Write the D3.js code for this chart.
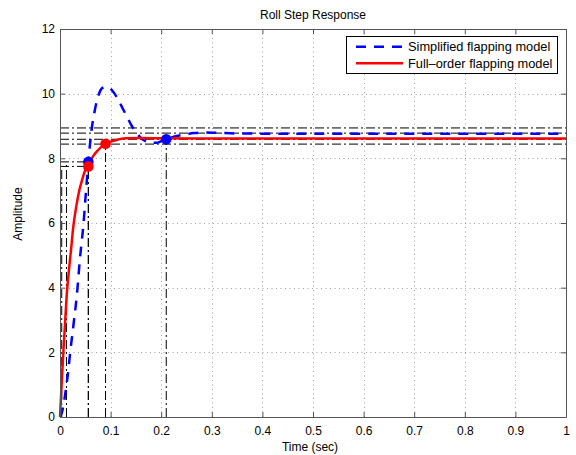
<!DOCTYPE html>
<html>
<head>
<meta charset="utf-8">
<script src="https://cdn.jsdelivr.net/npm/d3@7"></script>
<style>
  html, body { margin: 0; padding: 0; background: #fff; }
  svg { display: block; font-family: "Liberation Sans", Arial, Helvetica, sans-serif; }
</style>
</head>
<body>
<svg id="chart" width="576" height="455"></svg>
<script>
// Step response of the simplified (blue, dashed) and full-order (red) flapping models
const simplifiedT = [0, 0.004, 0.01, 0.0165, 0.02, 0.027, 0.033, 0.04, 0.046, 0.051, 0.056, 0.0626, 0.069, 0.076, 0.084, 0.092, 0.1, 0.112, 0.122, 0.132, 0.142, 0.152, 0.162, 0.171, 0.181, 0.191, 0.2, 0.21, 0.225, 0.244, 0.265, 0.283, 0.31, 0.35, 0.45, 0.6, 0.8, 1.0];
const simplifiedY = [0, 0.15, 0.68, 1.45, 1.98, 2.9, 3.72, 5.0, 5.9, 6.9, 7.89, 8.9, 9.5, 9.95, 10.18, 10.22, 10.15, 9.9, 9.6, 9.3, 9.0, 8.77, 8.6, 8.52, 8.48, 8.48, 8.53, 8.59, 8.67, 8.73, 8.78, 8.8, 8.79, 8.77, 8.76, 8.76, 8.76, 8.76];

const fullT = [0, 0.003, 0.0066, 0.01, 0.013, 0.018, 0.022, 0.026, 0.032, 0.038, 0.044, 0.049, 0.056, 0.065, 0.075, 0.09, 0.11, 0.13, 0.16, 0.2, 0.3, 0.5, 0.75, 1.0];
const fullY = [0, 0.95, 2.0, 2.9, 3.7, 4.6, 5.2, 5.85, 6.5, 7.0, 7.35, 7.6, 7.75, 8.05, 8.25, 8.45, 8.56, 8.62, 8.63, 8.62, 8.61, 8.61, 8.61, 8.61];

// Response characteristics: rise-time start (10%), rise-time end (90%), settling time
const seriesNames = ["Simplified flapping model", "Full\u2013order flapping model"];
const riseStartT = [0.0128, 0.0034];
const riseEndT = [0.056, 0.056];
const riseLevel = [7.89, 7.75];
const settleT = [0.21, 0.09];
const settleY = [8.59, 8.45];
// ±2% settling bands around each final value
const bandLevels = [8.94, 8.59, 8.78, 8.44];

const xTicks = [0, 0.1, 0.2, 0.3, 0.4, 0.5, 0.6, 0.7, 0.8, 0.9, 1];
const yTicks = [0, 2, 4, 6, 8, 10, 12];

const colors = ["#0000ff", "#ff0000"];
const plotLeft = 60, plotRight = 566, plotTop = 29, plotBottom = 417;

const svg = d3.select("#chart");
const x = d3.scaleLinear().domain([0, 1]).range([plotLeft, plotRight]);
const y = d3.scaleLinear().domain([0, 12]).range([plotBottom, plotTop]);

// grid
const grid = svg.append("g").attr("stroke", "#8a8a8a").attr("stroke-width", 0.8)
  .attr("stroke-dasharray", "1,3.5");
grid.selectAll(".gx").data(xTicks.slice(1, -1)).join("line")
  .attr("x1", d => Math.round(x(d)) + 0.5).attr("x2", d => Math.round(x(d)) + 0.5)
  .attr("y1", plotTop).attr("y2", plotBottom);
grid.selectAll(".gy").data(yTicks.slice(1, -1)).join("line")
  .attr("y1", d => Math.round(y(d)) + 0.5).attr("y2", d => Math.round(y(d)) + 0.5)
  .attr("x1", plotLeft).attr("x2", plotRight);

// characteristic guide lines (dash-dot)
const guides = svg.append("g").attr("stroke", "#000").attr("stroke-width", 1)
  .attr("stroke-dasharray", "9,3,2,3").attr("fill", "none");
guides.selectAll(".band").data(bandLevels).join("line")
  .attr("x1", plotLeft).attr("x2", plotRight)
  .attr("y1", d => y(d)).attr("y2", d => y(d));
[0, 1].forEach(i => {
  guides.append("line").attr("x1", x(riseStartT[i])).attr("x2", x(riseStartT[i]))
    .attr("y1", y(0)).attr("y2", y(riseLevel[i]));
  guides.append("line").attr("x1", x(riseEndT[i])).attr("x2", x(riseEndT[i]))
    .attr("y1", y(0)).attr("y2", y(riseLevel[i]));
  guides.append("line").attr("x1", x(0)).attr("x2", x(riseEndT[i]))
    .attr("y1", y(riseLevel[i])).attr("y2", y(riseLevel[i]));
  guides.append("line").attr("x1", x(settleT[i])).attr("x2", x(settleT[i]))
    .attr("y1", y(0)).attr("y2", y(settleY[i]));
});

// response curves
const line = d3.line().x(d => x(d[0])).y(d => y(d[1])).curve(d3.curveMonotoneX);
const simplified = d3.zip(simplifiedT, simplifiedY);
const full = d3.zip(fullT, fullY);

svg.append("path").datum(simplified).attr("d", line)
  .attr("fill", "none").attr("stroke", colors[0]).attr("stroke-width", 2.5)
  .attr("stroke-dasharray", "10,8");
svg.append("path").datum(full).attr("d", line)
  .attr("fill", "none").attr("stroke", colors[1]).attr("stroke-width", 2.5);

// characteristic markers
[0, 1].forEach(i => {
  svg.append("circle").attr("cx", x(riseEndT[i])).attr("cy", y(riseLevel[i])).attr("r", 5.3)
    .attr("fill", colors[i]);
  svg.append("circle").attr("cx", x(settleT[i])).attr("cy", y(settleY[i])).attr("r", 5.3)
    .attr("fill", colors[i]);
});

// axes box and ticks
const axisColor = "#555";
const xAxis = svg.append("g").attr("transform", `translate(0,${plotBottom})`)
  .call(d3.axisBottom(x).tickValues(xTicks).tickFormat(d3.format("~g"))
    .tickSizeInner(-5).tickSizeOuter(0).tickPadding(9));
const xTop = svg.append("g").attr("transform", `translate(0,${plotTop})`)
  .call(d3.axisTop(x).tickValues(xTicks).tickFormat("").tickSizeInner(-5).tickSizeOuter(0));
const yAxis = svg.append("g").attr("transform", `translate(${plotLeft},0)`)
  .call(d3.axisLeft(y).tickValues(yTicks).tickSizeInner(-5).tickSizeOuter(0).tickPadding(5));
const yRight = svg.append("g").attr("transform", `translate(${plotRight},0)`)
  .call(d3.axisRight(y).tickValues(yTicks).tickFormat("").tickSizeInner(-5).tickSizeOuter(0));
[xAxis, xTop, yAxis, yRight].forEach(g => {
  g.selectAll(".domain").attr("stroke", axisColor);
  g.selectAll(".tick line").attr("stroke", axisColor);
  g.selectAll("text").attr("font-size", 12).attr("fill", "#000")
    .attr("font-family", "'Liberation Sans', Arial, sans-serif");
});

// titles
svg.append("text").attr("x", 313).attr("y", 19).attr("text-anchor", "middle")
  .attr("font-size", 12).text("Roll Step Response");
svg.append("text").attr("x", 310).attr("y", 451).attr("text-anchor", "middle")
  .attr("font-size", 12).text("Time (sec)");
svg.append("text").attr("transform", "translate(22,214) rotate(-90)")
  .attr("text-anchor", "middle").attr("font-size", 12).text("Amplitude");

// legend
const legend = svg.append("g");
legend.append("rect").attr("x", 346.5).attr("y", 36.5).attr("width", 211).attr("height", 37)
  .attr("fill", "#fff").attr("stroke", "#000").attr("stroke-width", 1);
const rowsY = [46.7, 63.3];
[0, 1].forEach(i => {
  legend.append("line").attr("x1", 356).attr("x2", 403).attr("y1", rowsY[i]).attr("y2", rowsY[i])
    .attr("stroke", colors[i]).attr("stroke-width", 2.5)
    .attr("stroke-dasharray", i === 0 ? "10,8" : null);
  legend.append("text").attr("x", 408).attr("y", rowsY[i] + 4.5).attr("font-size", 12.8)
    .text(seriesNames[i]);
});
</script>
</body>
</html>
